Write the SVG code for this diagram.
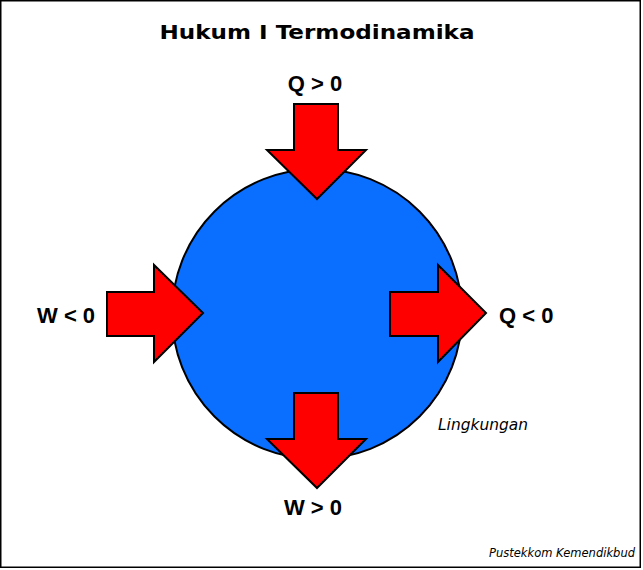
<svg xmlns="http://www.w3.org/2000/svg" width="643" height="570" viewBox="0 0 643 570">
  <style>
    .arrow { fill: #ff0000; stroke: #000; stroke-width: 2; stroke-linejoin: miter; }
    .lbl { font-family: "Liberation Sans", Arial, sans-serif; font-weight: bold; font-size: 22px; fill: #000; }
    .title { font-family: "DejaVu Sans", Verdana, sans-serif; font-weight: bold; font-size: 19px; fill: #000; }
    .ital { font-family: "DejaVu Sans", Verdana, sans-serif; font-style: italic; fill: #000; }
  </style>
  <rect x="0.75" y="0.75" width="639.5" height="566.5" fill="#fff" stroke="#000" stroke-width="1.5"/>
  <text class="title" x="317" y="39" text-anchor="middle" textLength="315" lengthAdjust="spacingAndGlyphs">Hukum I Termodinamika</text>
  <g id="system">
    <circle cx="317" cy="314" r="145" fill="#0a6eff" stroke="#000" stroke-width="2"/>
    <text class="ital" x="438" y="430" font-size="15" textLength="90" lengthAdjust="spacingAndGlyphs">Lingkungan</text>
  </g>
  <g id="arrows">
    <g id="q-in">
      <polygon class="arrow" points="294,104 338,104 338,150 366,150 317,199 267,150 294,150"/>
      <text class="lbl" x="315" y="91" text-anchor="middle">Q &gt; 0</text>
    </g>
    <g id="w-in">
      <polygon class="arrow" points="107,292 154,292 154,265 203,313 154,362 154,336 107,336"/>
      <text class="lbl" x="37" y="323">W &lt; 0</text>
    </g>
    <g id="q-out">
      <polygon class="arrow" points="390,292 438,292 438,265 486,313 438,362 438,336 390,336"/>
      <text class="lbl" x="499" y="323">Q &lt; 0</text>
    </g>
    <g id="w-out">
      <polygon class="arrow" points="294,393 338,393 338,439 366,439 317,488 267,439 294,439"/>
      <text class="lbl" x="313" y="515" text-anchor="middle">W &gt; 0</text>
    </g>
  </g>
  <text class="ital" x="489" y="557" font-size="11.5" textLength="146" lengthAdjust="spacingAndGlyphs">Pustekkom Kemendikbud</text>
</svg>
